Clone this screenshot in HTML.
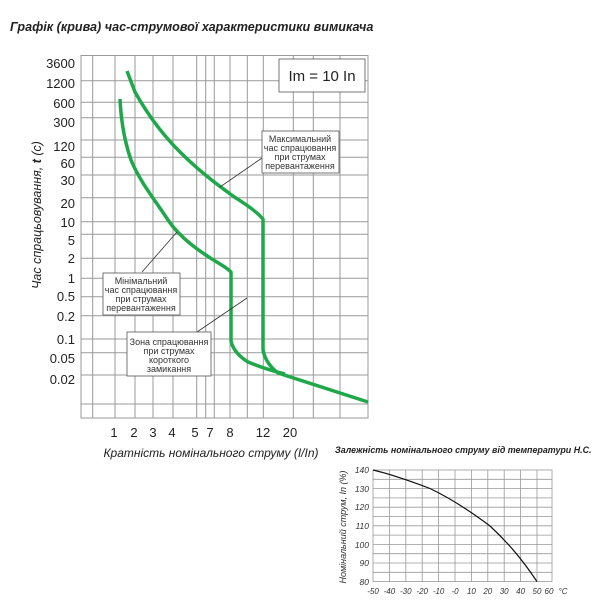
<!DOCTYPE html>
<html><head><meta charset="utf-8"><style>
body{margin:0;background:#fff;}
svg{display:block;font-family:"Liberation Sans",sans-serif;}
</style></head><body>
<svg width="600" height="600" viewBox="0 0 600 600" xmlns="http://www.w3.org/2000/svg">
<rect width="600" height="600" fill="#fff"/>
<text x="10" y="31" font-size="12.6" font-weight="bold" font-style="italic" fill="#222">Графік (крива) час-струмової характеристики вимикача</text>

<g stroke="#999" stroke-width="1" fill="none">
<rect x="81" y="55.5" width="287" height="362.5"/>
<path d="M81 80.7H368M81 102.3H368M81 117.7H368M81 140H368M81 157.3H368M81 175H368M81 197.7H368M81 221.7H368M81 234.3H368M81 258.3H368M81 278.3H368M81 296.7H368M81 315.7H368M81 339H368M81 352.7H368M81 375H368M81 404H368"/>
<path d="M92.7 55V418M115 55V418M135 55V418M153 55V418M173 55V418M196.7 55V418M205.7 55V418M214.3 55V418M230 55V418M247.3 55V418M263.3 55V418M293.3 55V418M313.3 55V418M340 55V418"/>
</g>
<g font-size="13" fill="#222" text-anchor="end">
<text x="75" y="68">3600</text><text x="75" y="88">1200</text><text x="75" y="108">600</text><text x="75" y="127">300</text><text x="75" y="151">120</text><text x="75" y="168">60</text><text x="75" y="185">30</text><text x="75" y="208">20</text><text x="75" y="227">10</text><text x="75" y="245">5</text><text x="75" y="263">2</text><text x="75" y="283">1</text><text x="75" y="301">0.5</text><text x="75" y="321">0.2</text><text x="75" y="344">0.1</text><text x="75" y="363">0.05</text><text x="75" y="384">0.02</text>
</g>
<g font-size="13" fill="#222" text-anchor="middle">
<text x="114" y="437">1</text><text x="134" y="437">2</text><text x="153" y="437">3</text><text x="172" y="437">4</text><text x="195" y="437">5</text><text x="210" y="437">7</text><text x="230" y="437">8</text><text x="263" y="437">12</text><text x="290" y="437">20</text>
</g>
<text x="211" y="457" font-size="12" font-style="italic" fill="#222" text-anchor="middle">Кратність номінального струму (I/In)</text>
<text transform="translate(41,215) rotate(-90)" font-size="12.5" font-style="italic" fill="#222" text-anchor="middle">Час спрацьовування, <tspan font-weight="bold">t</tspan> (с)</text>

<g stroke="#1fa84a" stroke-width="3.5" fill="none" stroke-linejoin="round">
<path d="M127 71 L135 92 C145 110 160 132 180 152 C198 170 215 183 233 196 C245 204 255 210 263 219 L263 350 C265 360 270 367 278 373 L368 402"/>
<path d="M120 99 C121 120 124 140 131 160 C140 182 155 200 168 220 C180 238 200 252 220 264 C225 267 228 269 231 272 L231 341 C233 350 240 357 248 362 C260 367 272 371 285 374"/>
</g>

<g stroke="#333" stroke-width="0.8">
<line x1="262" y1="158" x2="220" y2="187"/>
<line x1="142" y1="272" x2="177" y2="232"/>
<line x1="197" y1="332" x2="247" y2="298"/>
</g>
<g fill="#fff" stroke="#555" stroke-width="0.8">
<rect x="279" y="59" width="86" height="33"/>
<rect x="262" y="131" width="77" height="42"/>
<rect x="103" y="273" width="77" height="42"/>
<rect x="127" y="332" width="84" height="44"/>
</g>
<text x="322" y="81" font-size="15" fill="#222" text-anchor="middle">Im = 10 In</text>
<g font-size="9" fill="#333" text-anchor="middle">
<text x="300" y="142">Максимальний</text><text x="300" y="151">час спрацювання</text><text x="300" y="160">при струмах</text><text x="300" y="169">перевантаження</text>
<text x="141" y="284">Мінімальний</text><text x="141" y="293">час спрацювання</text><text x="141" y="302">при струмах</text><text x="141" y="311">перевантаження</text>
<text x="169" y="345">Зона спрацювання</text><text x="169" y="354">при струмах</text><text x="169" y="363">короткого</text><text x="169" y="372">замикання</text>
</g>

<text x="335" y="453" font-size="8.9" font-weight="bold" font-style="italic" fill="#222">Залежність номінального струму від температури Н.С.</text>
<g stroke="#999" stroke-width="0.8" fill="none">
<rect x="373" y="470" width="179" height="111.6"/>
<path d="M389.4 470V581.6M405.8 470V581.6M422.2 470V581.6M438.6 470V581.6M455 470V581.6M471.4 470V581.6M487.8 470V581.6M504.2 470V581.6M520.6 470V581.6M537 470V581.6"/>
<path d="M373 479.3H552M373 488.6H552M373 497.9H552M373 507.2H552M373 516.5H552M373 525.8H552M373 535.1H552M373 544.4H552M373 553.7H552M373 563H552M373 572.3H552"/>
</g>
<path d="M373 470 C390 474 410 481 430 488.5 C450 498 470 511 490 526 C505 540 520 556 537 581.6" stroke="#111" stroke-width="1.2" fill="none"/>
<g font-size="8.5" font-style="italic" fill="#333" text-anchor="end">
<text x="369" y="473">140</text><text x="369" y="492">130</text><text x="369" y="510">120</text><text x="369" y="529">110</text><text x="369" y="548">100</text><text x="369" y="566">90</text><text x="369" y="585">80</text>
</g>
<g font-size="8" font-style="italic" fill="#333" text-anchor="middle">
<text x="373" y="594">-50</text><text x="389.4" y="594">-40</text><text x="405.8" y="594">-30</text><text x="422.2" y="594">-20</text><text x="438.6" y="594">-10</text><text x="455" y="594">-0</text><text x="471.4" y="594">10</text><text x="487.8" y="594">20</text><text x="504.2" y="594">30</text><text x="520.6" y="594">40</text><text x="537" y="594">50</text><text x="549" y="594">60</text><text x="563" y="594">°C</text>
</g>
<text transform="translate(346,527) rotate(-90)" font-size="9" font-style="italic" fill="#333" text-anchor="middle">Номінальний струм, In (%)</text>
</svg>
</body></html>
